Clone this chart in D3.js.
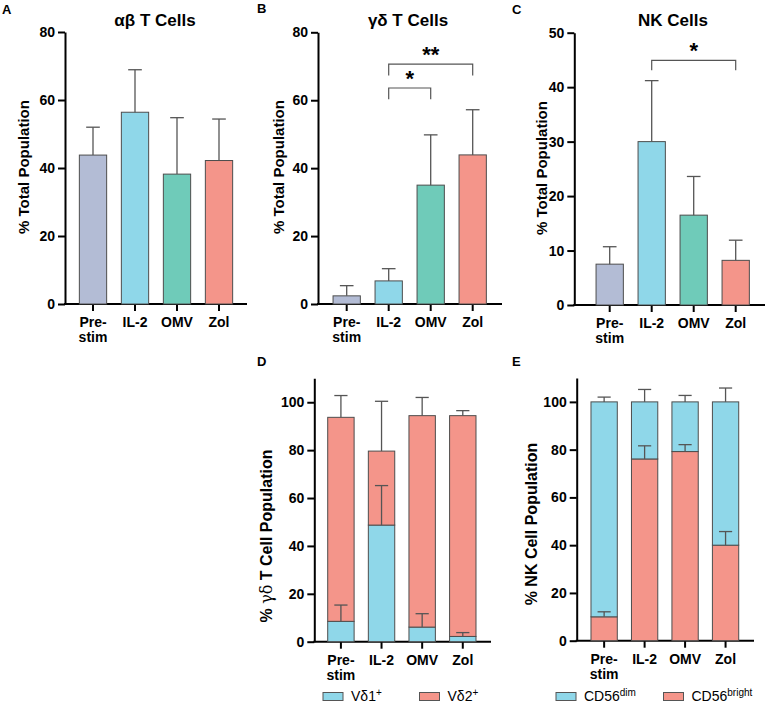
<!DOCTYPE html>
<html lang="en">
<head>
<meta charset="utf-8">
<style type="text/css">
  body { margin: 0; background: #fff; }
  text { font-family: "Liberation Sans", Arial, sans-serif; fill: #000; }
  .tick text { font-size: 14px; font-weight: bold; }
  .title { font-size: 17px; font-weight: bold; text-anchor: middle; }
  .ylab { font-weight: bold; text-anchor: middle; }
  .letter { font-size: 13px; font-weight: bold; }
  .bar { stroke: #4d4d4d; stroke-width: 1px; }
  .err { stroke: #555; stroke-width: 1.3px; fill: none; }
  .sig { stroke: #555; stroke-width: 1.2px; fill: none; }
  .star { font-size: 22px; font-weight: bold; text-anchor: middle; }
  .legtext { font-size: 14px; }
</style>
<script src="https://cdn.jsdelivr.net/npm/d3@7"></script>
</head>
<body>
<div id="fig"></div>
<script>
// ---- data ----
var groups = ["Pre-stim", "IL-2", "OMV", "Zol"];
var groupLabels = [["Pre-", "stim"], ["IL-2"], ["OMV"], ["Zol"]];
var groupColors = ["#b3bcd5", "#8fd7e9", "#6fcbb9", "#f4958a"];

var abMean = [43.8, 56.4, 38.2, 42.2];
var abSD   = [8.2, 12.5, 16.6, 12.2];
var gdMean = [2.4, 6.8, 35.0, 43.9];
var gdSD   = [3.0, 3.6, 14.8, 13.3];
var nkMean = [7.5, 30.0, 16.5, 8.2];
var nkSD   = [3.2, 11.2, 7.1, 3.7];

// panel D: stacked, bottom = Vd1, top = Vd2
var vd1Mean = [8.5, 48.7, 6.1, 2.2];
var vd1SD   = [6.8, 16.5, 5.6, 1.6];
var vd2Mean = [85.2, 30.9, 88.3, 92.2];
var vd2SD   = [9.1, 20.8, 7.6, 2.1];

// panel E: stacked, bottom = CD56bright, top = CD56dim
var brightMean = [10.0, 76.1, 79.2, 40.0];
var brightSD   = [2.1, 5.5, 2.9, 5.7];
var dimMean    = [90.0, 23.9, 20.8, 60.0];
var dimSD      = [2.0, 5.2, 2.7, 5.8];

var gdSig = [
  {from: "IL-2", to: "OMV", y: 63.6, drop: 3.3, label: "*"},
  {from: "IL-2", to: "Zol", y: 70.6, drop: 3.3, label: "**"}
];
var nkSig = [
  {from: "IL-2", to: "Zol", y: 44.9, drop: 1.8, label: "*"}
];

var blue = "#8fd7e9", red = "#f4958a";

var svg = d3.select("#fig").append("svg")
  .attr("width", 765).attr("height", 707);

function makePanel(p) {
  var g = svg.append("g");
  var y = d3.scaleLinear().domain([0, p.ymax]).range([p.y0, p.y1]);
  var x = d3.scaleBand().domain(groups).range([p.b0, p.b1])
    .paddingInner(0.35).paddingOuter(0.175);

  // y axis
  var ya = g.append("g").attr("transform", "translate(" + p.x0 + ",0)")
    .call(d3.axisLeft(y).tickValues(p.ticks).tickSize(7).tickPadding(3).tickSizeOuter(0));
  ya.select(".domain").attr("stroke-width", 2);
  ya.selectAll(".tick line").attr("stroke-width", 2);

  // x axis
  var xa = g.append("g").attr("transform", "translate(0," + p.y0 + ")")
    .call(d3.axisBottom(x).tickSize(7).tickPadding(6).tickSizeOuter(0));
  xa.select(".domain").remove();
  xa.append("line").attr("x1", p.x0 - 1).attr("x2", p.x1)
    .attr("stroke", "#000").attr("stroke-width", 2);
  xa.selectAll(".tick line").attr("stroke-width", 2);
  xa.selectAll(".tick text").each(function(d, i) {
    var t = d3.select(this).text(null);
    groupLabels[i].forEach(function(s, j) {
      t.append("tspan").attr("x", 0).attr("dy", j === 0 ? "0.71em" : "1.1em").text(s);
    });
  });

  // bars
  p.series.forEach(function(s) {
    groups.forEach(function(k, i) {
      var base = s.base ? s.base[i] : 0;
      var top = base + s.mean[i];
      g.append("rect").attr("class", "bar")
        .attr("x", x(k)).attr("width", x.bandwidth())
        .attr("y", y(top)).attr("height", y(base) - y(top))
        .attr("fill", s.colors ? s.colors[i] : s.color);
    });
  });
  // error bars (upper only)
  p.series.forEach(function(s) {
    groups.forEach(function(k, i) {
      var base = s.base ? s.base[i] : 0;
      var top = base + s.mean[i];
      var cx = x(k) + x.bandwidth() / 2;
      var cw = x.bandwidth() / 4;
      g.append("line").attr("class", "err")
        .attr("x1", cx).attr("x2", cx).attr("y1", y(top)).attr("y2", y(top + s.sd[i]));
      g.append("line").attr("class", "err")
        .attr("x1", cx - cw).attr("x2", cx + cw)
        .attr("y1", y(top + s.sd[i])).attr("y2", y(top + s.sd[i]));
    });
  });

  // significance brackets
  (p.sig || []).forEach(function(s) {
    var xa1 = x(s.from) + x.bandwidth() / 2, xb1 = x(s.to) + x.bandwidth() / 2;
    g.append("path").attr("class", "sig")
      .attr("d", "M" + xa1 + "," + y(s.y - s.drop) + "V" + y(s.y) + "H" + xb1 + "V" + y(s.y - s.drop));
    g.append("text").attr("class", "star")
      .attr("x", (xa1 + xb1) / 2).attr("y", y(s.y) - 2).text(s.label);
  });

  if (p.title) {
    g.append("text").attr("class", "title")
      .attr("x", p.titleX).attr("y", 26).text(p.title);
  }
  var yl = g.append("text").attr("class", "ylab")
    .attr("transform", "translate(" + p.ylx + "," + p.yly + ") rotate(-90)")
    .style("font-size", p.ylSize + "px");
  p.ylab.forEach(function(part) {
    yl.append("tspan").style("font-weight", part.w || "bold")
      .style("font-family", part.f || null).text(part.t);
  });
  g.append("text").attr("class", "letter")
    .attr("x", p.lx).attr("y", p.ly).text(p.letter);
  return {x: x, y: y};
}

makePanel({
  letter: "A", lx: 2, ly: 14, title: "\u03b1\u03b2 T Cells", titleX: 155,
  x0: 65, x1: 247, b0: 72, b1: 240, y0: 304, y1: 32, ymax: 80, ticks: [0, 20, 40, 60, 80],
  ylx: 29, yly: 167, ylSize: 15, ylab: [{t: "% Total Population"}],
  series: [{mean: abMean, sd: abSD, colors: groupColors}]
});
makePanel({
  letter: "B", lx: 257, ly: 13, title: "\u03b3\u03b4 T Cells", titleX: 408,
  x0: 318, x1: 502, b0: 325.7, b1: 493.7, y0: 304, y1: 32.3, ymax: 80, ticks: [0, 20, 40, 60, 80],
  ylx: 283.5, yly: 167, ylSize: 15, ylab: [{t: "% Total Population"}],
  series: [{mean: gdMean, sd: gdSD, colors: groupColors}], sig: gdSig
});
makePanel({
  letter: "C", lx: 512, ly: 14, title: "NK Cells", titleX: 673,
  x0: 574.3, x1: 765, b0: 588.7, b1: 756.7, y0: 305, y1: 32.7, ymax: 50, ticks: [0, 10, 20, 30, 40, 50],
  ylx: 547, yly: 168, ylSize: 15, ylab: [{t: "% Total Population"}],
  series: [{mean: nkMean, sd: nkSD, colors: groupColors}], sig: nkSig
});
makePanel({
  letter: "D", lx: 257, ly: 366,
  x0: 314.3, x1: 491, b0: 320.6, b1: 483.1, y0: 641.7, y1: 378.3, ymax: 110, ticks: [0, 20, 40, 60, 80, 100],
  ylx: 272, yly: 536, ylSize: 16,
  ylab: [{t: "% "}, {t: "\u03b3\u03b4", w: "normal", f: "DejaVu Serif"}, {t: " T Cell Population"}],
  series: [
    {mean: vd1Mean, sd: vd1SD, color: blue},
    {mean: vd2Mean, sd: vd2SD, color: red, base: vd1Mean}
  ]
});
makePanel({
  letter: "E", lx: 512, ly: 366,
  x0: 576.7, x1: 754, b0: 583.9, b1: 745.8, y0: 640.7, y1: 378, ymax: 110, ticks: [0, 20, 40, 60, 80, 100],
  ylx: 537, yly: 524, ylSize: 16, ylab: [{t: "% NK Cell Population"}],
  series: [
    {mean: brightMean, sd: brightSD, color: red},
    {mean: dimMean, sd: dimSD, color: blue, base: brightMean}
  ]
});

// legends
function legend(items) {
  items.forEach(function(it) {
    svg.append("rect").attr("x", it.x).attr("y", 692.5).attr("width", 20).attr("height", 8)
      .attr("fill", it.color).attr("stroke", "#555").attr("stroke-width", 1);
    var t = svg.append("text").attr("class", "legtext").attr("x", it.x + 28).attr("y", 701);
    t.append("tspan").text(it.label);
    t.append("tspan").attr("dy", -5).style("font-size", "10px").text(it.sup);
  });
}
legend([
  {x: 323, color: blue, label: "V\u03b41", sup: "+"},
  {x: 419.5, color: red, label: "V\u03b42", sup: "+"}
]);
legend([
  {x: 556, color: blue, label: "CD56", sup: "dim"},
  {x: 663.5, color: red, label: "CD56", sup: "bright"}
]);
</script>
</body>
</html>
